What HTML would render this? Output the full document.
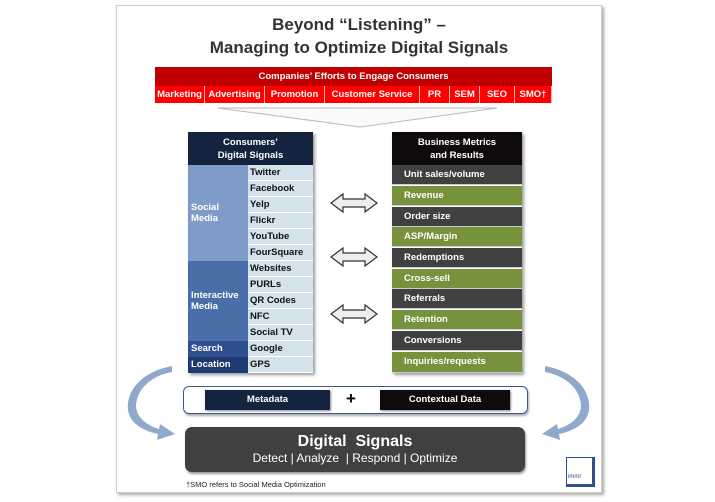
<!DOCTYPE html>
<html><head><style>
body{margin:0;width:715px;height:502px;background:#fff;font-family:"Liberation Sans",sans-serif;position:relative;overflow:hidden}
*{box-sizing:border-box}
.a{position:absolute}
.t{font-weight:bold;color:#fff;font-size:9.5px}
.red div{position:absolute;top:0;height:17px;line-height:17px;text-align:center;color:#fff;font-weight:bold;font-size:9.5px;background:#f00;border-right:1px solid #fbb}
.lr{position:absolute;left:60px;width:65px;height:16px;line-height:16px;background:#d3e2eb;border-bottom:1px solid #fff;padding-left:2px;font-weight:bold;font-size:9.5px;color:#111}
.rr{position:absolute;left:0;width:130px;height:20px;line-height:20px;border-bottom:1px solid #ccc;padding-left:12px;font-weight:bold;font-size:9.5px;color:#fff}
</style></head><body>
<div class="a" style="left:116px;top:5px;width:486px;height:488px;border:1px solid #ccc;box-shadow:2px 2px 3px #aaa"></div>
<div class="a" style="left:116px;top:13px;width:486px;text-align:center;font-weight:bold;font-size:17px;color:#333;line-height:23px">Beyond “Listening” –<br>Managing to Optimize Digital Signals</div>
<div class="a" style="left:155px;top:67px;width:397px;height:19px;background:#c00000;color:#fff;font-weight:bold;font-size:9.5px;text-align:center;line-height:19px">Companies’ Efforts to Engage Consumers</div>
<div class="a red" style="left:155px;top:86px;width:397px;height:17px">
<div style="left:0;width:50px">Marketing</div><div style="left:50px;width:60px">Advertising</div><div style="left:110px;width:60px">Promotion</div><div style="left:170px;width:95px">Customer Service</div><div style="left:265px;width:30px">PR</div><div style="left:295px;width:30px">SEM</div><div style="left:325px;width:35px">SEO</div><div style="left:360px;width:37px">SMO†</div></div>
<svg class="a" style="left:0;top:0" width="715" height="502">
<polygon points="218,108 497,108 360,127" fill="#fafafa" stroke="#bbb" stroke-width="1"/>
<g fill="#eee" stroke="#333" stroke-width="1.2">
<polygon points="331,203 343,194 343,199 365,199 365,194 377,203 365,212 365,207 343,207 343,212"/>
<polygon points="331,257 343,248 343,253 365,253 365,248 377,257 365,266 365,261 343,261 343,266"/>
<polygon points="331,314 343,305 343,310 365,310 365,305 377,314 365,323 365,318 343,318 343,323"/>
</g>
<g fill="#8fa9cc">
<path d="M172,366 C140,372 126,392 128,410 C130,422 140,430 158,434 L157,440 L175,434 L160,424 L159,429 C143,424 136,415 136,405 C137,390 150,376 172,372 Z"/>
<path transform="translate(717,0) scale(-1,1)" d="M172,366 C140,372 126,392 128,410 C130,422 140,430 158,434 L157,440 L175,434 L160,424 L159,429 C143,424 136,415 136,405 C137,390 150,376 172,372 Z"/>
</g>
</svg>
<div class="a" style="left:188px;top:132px;width:125px;height:241px;box-shadow:2px 2px 3px #999">
<div class="a t" style="left:0;top:0;width:125px;height:33px;background:#14243f;text-align:center;line-height:13px;padding-top:4px">Consumers’<br>Digital Signals</div>
<div class="a t" style="left:0;top:33px;width:60px;height:96px;background:#7f9cc8;padding:37px 0 0 3px;line-height:11px">Social<br>Media</div>
<div class="a t" style="left:0;top:129px;width:60px;height:80px;background:#4a6fa8;padding:29px 0 0 3px;line-height:11px">Interactive<br>Media</div>
<div class="a t" style="left:0;top:209px;width:60px;height:16px;background:#2f4f8f;padding:2px 0 0 3px">Search</div>
<div class="a t" style="left:0;top:225px;width:60px;height:16px;background:#1f3a6e;padding:2px 0 0 3px">Location</div>
<div class="lr" style="top:33px">Twitter</div><div class="lr" style="top:49px">Facebook</div><div class="lr" style="top:65px">Yelp</div><div class="lr" style="top:81px">Flickr</div><div class="lr" style="top:97px">YouTube</div><div class="lr" style="top:113px">FourSquare</div><div class="lr" style="top:129px">Websites</div><div class="lr" style="top:145px">PURLs</div><div class="lr" style="top:161px">QR Codes</div><div class="lr" style="top:177px">NFC</div><div class="lr" style="top:193px">Social TV</div><div class="lr" style="top:209px">Google</div><div class="lr" style="top:225px">GPS</div>
</div>
<div class="a" style="left:392px;top:132px;width:130px;height:241px;box-shadow:2px 2px 3px #999">
<div class="a t" style="left:0;top:0;width:130px;height:33px;background:#0f0b0b;text-align:center;line-height:13px;padding-top:4px">Business Metrics<br>and Results</div>
<div class="rr" style="top:33px;background:#404040">Unit sales/volume</div><div class="rr" style="top:54px;background:#76923c">Revenue</div><div class="rr" style="top:75px;background:#404040">Order size</div><div class="rr" style="top:95px;background:#76923c">ASP/Margin</div><div class="rr" style="top:116px;background:#404040">Redemptions</div><div class="rr" style="top:137px;background:#76923c">Cross-sell</div><div class="rr" style="top:157px;background:#404040">Referrals</div><div class="rr" style="top:178px;background:#76923c">Retention</div><div class="rr" style="top:199px;background:#404040">Conversions</div><div class="rr" style="top:220px;background:#76923c;height:21px">Inquiries/requests</div>
</div>
<div class="a" style="left:183px;top:386px;width:345px;height:28px;border:1px solid #3a5a8c;border-radius:6px;box-shadow:1px 2px 2px #aaa"></div>
<div class="a t" style="left:205px;top:390px;width:125px;height:20px;background:#14243f;text-align:center;line-height:20px;box-shadow:1px 1px 2px #888">Metadata</div>
<div class="a" style="left:346px;top:389px;font-weight:bold;font-size:17px">+</div>
<div class="a t" style="left:380px;top:390px;width:130px;height:20px;background:#0f0b0b;text-align:center;line-height:20px;box-shadow:1px 1px 2px #888">Contextual Data</div>
<div class="a" style="left:185px;top:427px;width:340px;height:45px;background:#404040;border-radius:7px;color:#fff;text-align:center;box-shadow:1px 2px 2px #999">
<div style="font-weight:bold;font-size:16px;margin-top:6px;line-height:18px">Digital&nbsp; Signals</div>
<div style="font-size:12px;line-height:15px">Detect | Analyze &nbsp;| Respond | Optimize</div></div>
<div class="a" style="left:186px;top:480px;font-size:7.5px;color:#222">†SMO refers to Social Media Optimization</div>
<div class="a" style="left:566px;top:457px;width:29px;height:30px;background:#fff;border:1px solid #2f4f8f;border-bottom:3px solid #2f4f8f;border-right:3px solid #2f4f8f;font-size:6px;color:#2f4f8f;padding-top:16px;padding-left:1px">immr</div>
</body></html>
